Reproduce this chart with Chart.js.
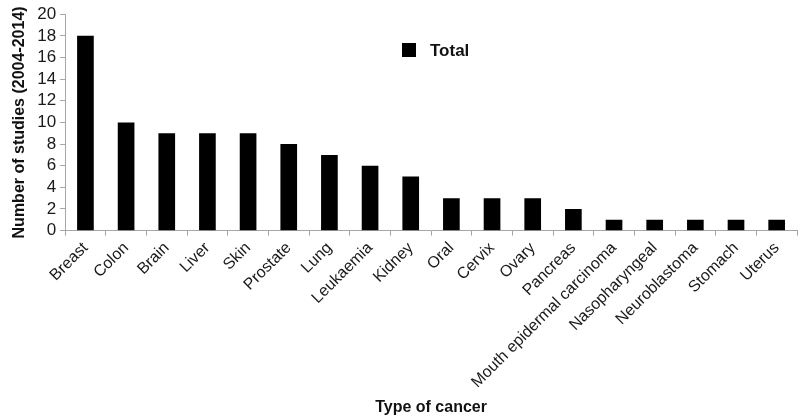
<!DOCTYPE html>
<html>
<head>
<meta charset="utf-8">
<script src="https://cdn.jsdelivr.net/npm/chart.js@4"></script>
<style>
  html, body { margin: 0; padding: 0; background: #fff; }
  #wrap { width: 800px; height: 419px; }
</style>
</head>
<body>
<div id="wrap"><canvas id="cancerChart"></canvas></div>
<script>
const cancerTypes = ['Breast', 'Colon', 'Brain', 'Liver', 'Skin', 'Prostate', 'Lung', 'Leukaemia', 'Kidney',
    'Oral', 'Cervix', 'Ovary', 'Pancreas', 'Mouth epidermal carcinoma', 'Nasopharyngeal',
    'Neuroblastoma', 'Stomach', 'Uterus'];
const totalStudies = [18, 10, 9, 9, 9, 8, 7, 6, 5, 3, 3, 3, 2, 1, 1, 1, 1, 1];
const yTicks = [0, 2, 4, 6, 8, 10, 12, 14, 16, 18, 20];

document.addEventListener('DOMContentLoaded', () => {
    const ctx = document.getElementById('cancerChart').getContext('2d');
    const axisGray = '#a6a6a6';
    const font = 'Liberation Sans, Arial, sans-serif';

    // legend drawn inside the plot, upper middle
    const insideLegend = {
        id: 'insideLegend',
        afterDraw(chart) {
            const c = chart.ctx;
            const ds = chart.data.datasets[0];
            c.save();
            c.fillStyle = ds.backgroundColor;
            c.fillRect(402, 43, 14, 14);
            c.fillStyle = '#111';
            c.font = 'bold 17px ' + font;
            c.textBaseline = 'middle';
            c.fillText(ds.label, 430, 51);
            c.restore();
        }
    };

    new Chart(ctx, {
        type: 'bar',
        data: {
            labels: cancerTypes,
            datasets: [{
                label: 'Total',
                data: totalStudies,
                backgroundColor: '#000000',
                borderWidth: 0,
                categoryPercentage: 1,
                barPercentage: 0.41
            }]
        },
        options: {
            responsive: true,
            maintainAspectRatio: false,
            animation: false,
            layout: { padding: { left: 10, right: 3, top: 6, bottom: 2 } },
            plugins: {
                tooltip: { enabled: false },
                legend: { display: false }
            },
            scales: {
                x: {
                    grid: { display: true, drawOnChartArea: false, offset: true, color: axisGray, tickLength: 5 },
                    border: { color: axisGray },
                    ticks: {
                        color: '#1a1a1a',
                        minRotation: 45,
                        maxRotation: 45,
                        autoSkip: false,
                        padding: 3,
                        font: { family: font, size: 16 }
                    },
                    title: {
                        display: true,
                        text: 'Type of cancer',
                        color: '#111',
                        padding: { top: 3, bottom: 0 },
                        font: { family: font, size: 16, weight: 'bold' }
                    }
                },
                y: {
                    min: 0,
                    max: 20,
                    afterBuildTicks: axis => { axis.ticks = yTicks.map(v => ({ value: v })); },
                    grid: { display: true, drawOnChartArea: false, color: axisGray, tickLength: 5 },
                    border: { color: axisGray },
                    ticks: {
                        color: '#1a1a1a',
                        autoSkip: false,
                        padding: 4,
                        font: { family: font, size: 17 }
                    },
                    title: {
                        display: true,
                        text: 'Number of studies (2004-2014)',
                        color: '#111',
                        padding: { top: 0, bottom: 4 },
                        font: { family: font, size: 16, weight: 'bold' }
                    }
                }
            }
        },
        plugins: [insideLegend]
    });
});
</script>
</body>
</html>
